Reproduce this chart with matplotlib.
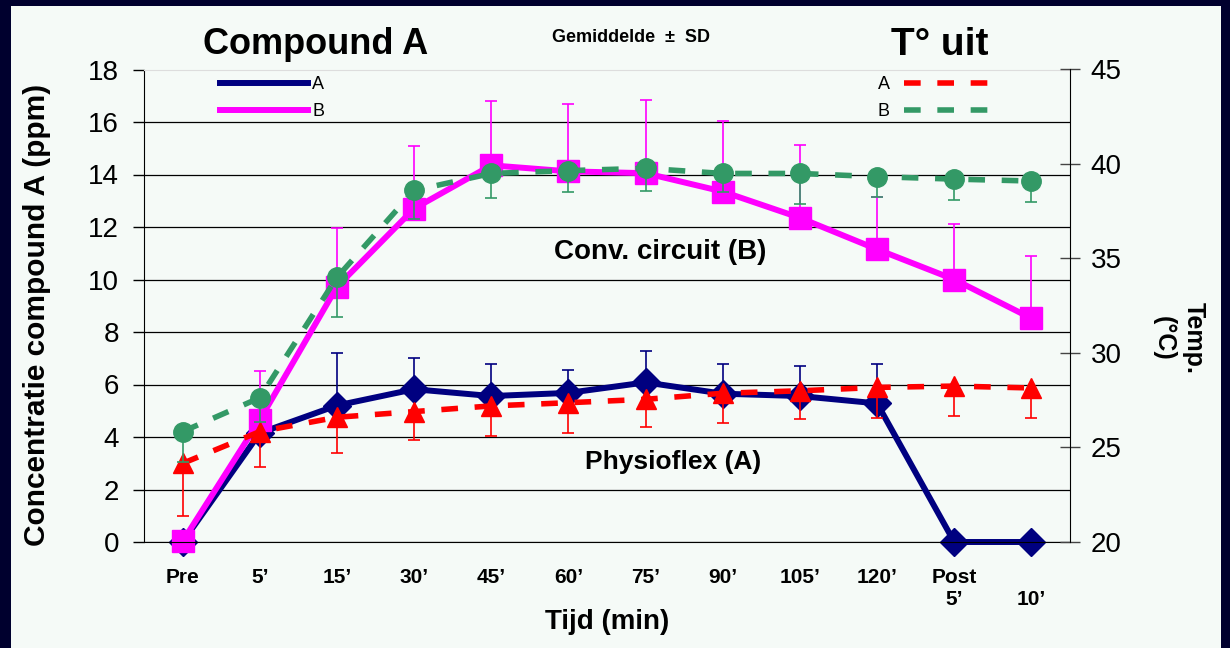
import numpy as np
import matplotlib.pyplot as plt
from matplotlib.patches import Rectangle
from matplotlib.lines import Line2D

plt.rcParams['font.family'] = ['Liberation Sans', 'DejaVu Sans']

# time points
cats = ['Pre', '5’', '15’', '30’', '45’', '60’', '75’', '90’', '105’', '120’', 'Post\n5’', '\n10’']

# compound A concentration (ppm), mean and SD
conc_a = [0, 4.15, 5.2, 5.82, 5.56, 5.68, 6.08, 5.65, 5.56, 5.28, 0, 0]
sd_a = [0, 0, 2.0, 1.18, 1.23, 0.88, 1.2, 1.14, 1.16, 1.5, 0, 0]
conc_b = [0.02, 4.65, 9.72, 12.7, 14.35, 14.12, 14.05, 13.35, 12.35, 11.15, 10.0, 8.52]
sd_b = [0, 1.85, 2.25, 2.37, 2.45, 2.58, 2.8, 2.7, 2.77, 2.0, 2.1, 2.36]

# temperature out (°C), mean and SD
temp_a = [24.16, 25.84, 26.6, 26.9, 27.2, 27.37, 27.55, 27.87, 28.0, 28.18, 28.25, 28.15]
sd_ta = [2.8, 1.85, 1.9, 1.5, 1.6, 1.6, 1.45, 1.6, 1.5, 1.6, 1.57, 1.57]
temp_b = [25.84, 27.63, 34.0, 38.6, 39.5, 39.65, 39.77, 39.5, 39.5, 39.33, 39.2, 39.1]
sd_tb = [1.6, 1.3, 2.1, 1.5, 1.3, 1.15, 1.2, 1.0, 1.6, 1.05, 1.1, 1.1]

navy = '#000080'
magenta = '#ff00ff'
red = '#ff0000'
green = '#339966'
dash = (0, (3.0, 3.0))

W, H = 1230, 648
fig = plt.figure(figsize=(12.3, 6.48), dpi=100)
fig.patch.set_facecolor('#00002e')
fig.add_artist(Rectangle((11 / W, 0), (1221 - 11) / W, (H - 6) / H,
                         transform=fig.transFigure, facecolor='#f5faf7',
                         edgecolor='none', zorder=0))

ax = fig.add_axes([144 / W, 1 - 542 / H, (1070 - 144) / W, (542 - 69.5) / H])
ax.set_facecolor('none')
x = np.arange(len(cats))


def err(axis, y, sd, color, upper=True):
    sd = np.array(sd)
    zeros = np.zeros_like(sd)
    yerr = [zeros, sd] if upper else [sd, zeros]
    _, caps, _ = axis.errorbar(x, y, yerr=yerr, fmt='none', ecolor=color,
                               elinewidth=1.2, capsize=4.5, capthick=1.2)
    caps[0 if upper else 1].set_visible(False)


err(ax, conc_a, sd_a, navy)
ax.plot(x, conc_a, color=navy, lw=4.3, marker='D', ms=14, clip_on=False)
err(ax, conc_b, sd_b, magenta)
ax.plot(x, conc_b, color=magenta, lw=4.3, marker='s', ms=16, clip_on=False)

ax.set_xlim(-0.5, 11.5)
ax.set_ylim(0, 18)
ax.set_yticks(range(0, 19, 2))
ax.tick_params(axis='y', direction='out', length=8, width=1, labelsize=20, pad=10)
ax.set_xticks(x)
ax.set_xticklabels(cats, fontweight='bold', fontsize=15)
ax.tick_params(axis='x', length=0, pad=19)
ax.yaxis.grid(True, color='black', lw=0.9)
ax.get_ygridlines()[-1].set_visible(False)
ax.set_axisbelow(True)
ax.spines['top'].set_color('#dddddd')
ax.spines['right'].set_visible(False)
ax.set_ylabel('Concentratie compound A (ppm)', fontsize=21.5, fontweight='bold')
ax.yaxis.set_label_coords(-0.1, 0.48)
ax.set_xlabel('Tijd (min)', fontsize=20, fontweight='bold', labelpad=0)

ax2 = ax.twinx()
err(ax2, temp_a, sd_ta, red, upper=False)
ax2.plot(x, temp_a, color=red, lw=4, ls=dash, marker='^', ms=15)
err(ax2, temp_b, sd_tb, green, upper=False)
ax2.plot(x, temp_b, color=green, lw=4, ls=dash, marker='o', ms=14)
ax2.set_ylim(20, 45)
ax2.set_yticks(range(20, 46, 5))
ax2.tick_params(axis='y', direction='inout', length=14, width=1, color='#444444',
                labelsize=20, pad=8)
for s in ['top', 'left', 'bottom']:
    ax2.spines[s].set_visible(False)
ax2.spines['right'].set_color('black')
fig.text(1179 / W, 1 - 338 / H, 'Temp.\n(°C)', rotation=-90, fontsize=18,
         fontweight='bold', ha='center', va='center', multialignment='center',
         linespacing=1.3)

# legends
lh = [Line2D([], [], color=navy, lw=4.3), Line2D([], [], color=magenta, lw=4.3)]
fig.legend(lh, ['A', 'B'], loc='upper left', bbox_to_anchor=(220 / W, 1 - 76 / H),
           frameon=False, handlelength=4.9, handletextpad=0.2, labelspacing=0.55,
           fontsize=13, borderpad=0, borderaxespad=0)
rh = [Line2D([], [], color=red, lw=4, ls=dash), Line2D([], [], color=green, lw=4, ls=dash)]
fig.legend(rh, ['A', 'B'], loc='upper right', bbox_to_anchor=(1000 / W, 1 - 76 / H),
           frameon=False, handlelength=5.3, handletextpad=0.8, labelspacing=0.55,
           fontsize=13, borderpad=0, borderaxespad=0, markerfirst=False)

# titles and annotations
fig.text(316 / W, 1 - 45 / H, 'Compound A', fontsize=26, fontweight='bold', ha='center', va='center')
fig.text(940 / W, 1 - 45 / H, 'T° uit', fontsize=28, fontweight='bold', ha='center', va='center')
fig.text(631 / W, 1 - 37 / H, 'Gemiddelde  ±  SD', fontsize=13, fontweight='bold', ha='center', va='center')
fig.text(660 / W, 1 - 252 / H, 'Conv. circuit (B)', fontsize=20, fontweight='bold', ha='center', va='center')
fig.text(673 / W, 1 - 462 / H, 'Physioflex (A)', fontsize=19, fontweight='bold', ha='center', va='center')

fig.savefig('out.png', dpi=100, facecolor=fig.get_facecolor())
